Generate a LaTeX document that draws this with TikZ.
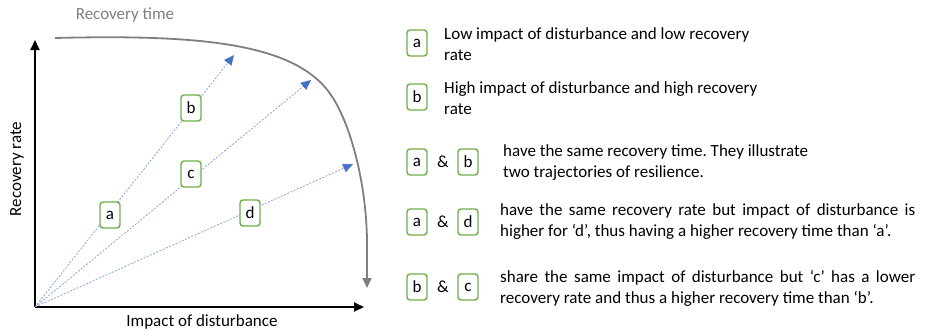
\documentclass[tikz,border=0pt]{standalone}
\usepackage{fontspec}
\setmainfont{Carlito}
\usetikzlibrary{arrows.meta}
\definecolor{boxgreen}{HTML}{70AD47}
\definecolor{trajblue}{HTML}{4472C4}
\definecolor{curvegray}{HTML}{7F7F7F}
\frenchspacing
\begin{document}
\begin{tikzpicture}[x=1pt, y=-1pt,
   every node/.style={font=\fontsize{17}{21}\selectfont, inner sep=0pt},
   letterbox/.style={draw=boxgreen, line width=1.4pt, fill=white, rounded corners=3pt,
      minimum width=20pt, minimum height=26pt},
   axis/.style={line width=2pt, -{Triangle[length=10pt, width=9pt]}},
   traj/.style={trajblue!70, line width=0.7pt, dash pattern=on 2pt off 1.5pt,
      -{Triangle[length=10pt, width=9pt, fill=trajblue, color=trajblue]}},
   legend/.style={anchor=west, align=left}]
\useasboundingbox (0,0) rectangle (933,335);
% axes and curve
\coordinate (o) at (35,307);
\coordinate (ytop) at (35,40);
\coordinate (xend) at (364,307);
\draw[axis] (o) -- (ytop);
\draw[axis] (o) -- (xend);
\coordinate (cs) at (55,38);
\coordinate (ce) at (367,288);
\draw[curvegray, line width=1.8pt, -{Triangle[length=10pt, width=9pt]}]
   (cs) .. controls (210,34) and (300,45) .. (333,98)
   .. controls (350,125) and (366,180) .. (367,240) -- (ce);
\node[text=curvegray] (rtime) at (125,15) {Recovery time};
\node[rotate=90] (rrate) at (17,169) {Recovery rate};
\node (impact) at (202,322) {Impact of disturbance};
% trajectories
\coordinate (tb) at (234,55);
\coordinate (tc) at (311,80);
\coordinate (td) at (353,164);
\draw[traj] (o) -- (tb);
\draw[traj] (o) -- (tc);
\draw[traj] (o) -- (td);
\node[letterbox] (a) at (110,215) {a};
\node[letterbox] (b) at (191,108) {b};
\node[letterbox] (c) at (191,174) {c};
\node[letterbox] (d) at (250,213) {d};
% legend
\node[letterbox] (la) at (417,43) {a};
\node[legend] (ta) at (444,44.5) {Low impact of disturbance and low recovery\\rate};
\node[letterbox] (lb) at (417,97) {b};
\node[legend] (tb) at (444,98.5) {High impact of disturbance and high recovery\\rate};
\node[letterbox] (lab1) at (417,162) {a};
\node (amp1) at (443,162) {\&};
\node[letterbox] (lab2) at (468,162) {b};
\node[legend] (tab) at (503,162.5) {have the same recovery time. They illustrate\\two trajectories of resilience.};
\node[letterbox] (lad1) at (417,222) {a};
\node (amp2) at (443,222) {\&};
\node[letterbox] (lad2) at (468,222) {d};
\node[anchor=west, text width=415pt, align=justify] (tad) at (500,222)
   {have the same recovery rate but impact of disturbance is\linebreak higher for ‘d’, thus having a higher recovery time than ‘a’.};
\node[letterbox] (lbc1) at (417,287) {b};
\node (amp3) at (443,287) {\&};
\node[letterbox] (lbc2) at (468,287) {c};
\node[anchor=west, text width=415pt, align=justify] (tbc) at (500,288)
   {share the same impact of disturbance but ‘c’ has a lower\linebreak recovery rate and thus a higher recovery time than ‘b’.};
\end{tikzpicture}
\end{document}
